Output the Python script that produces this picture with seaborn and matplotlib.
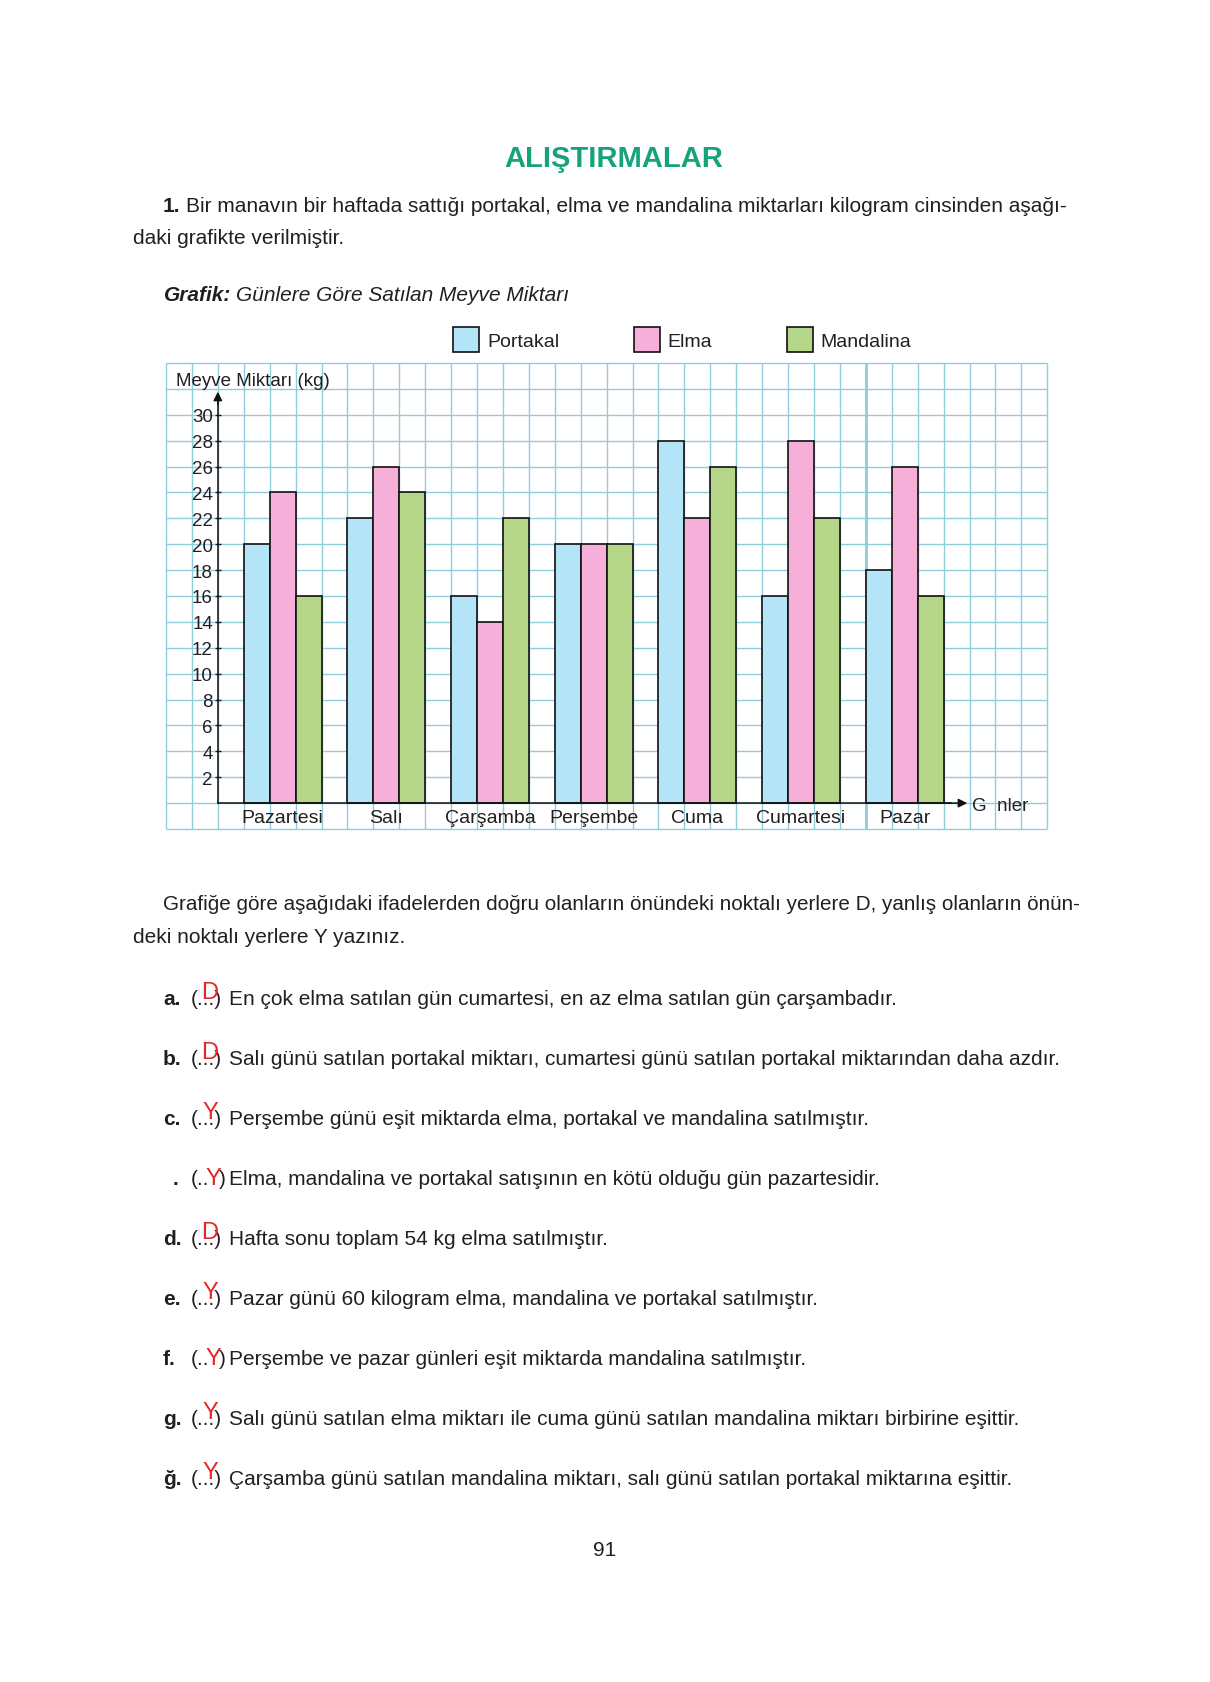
import numpy as np
import pandas as pd
import matplotlib
matplotlib.use("Agg")
import matplotlib.pyplot as plt
import seaborn as sns

# ---------------- data ----------------
days = ["Pazartesi", "Salı", "Çarşamba", "Perşembe", "Cuma", "Cumartesi", "Pazar"]
fruits = ["Portakal", "Elma", "Mandalina"]
portakal = [20, 22, 16, 20, 28, 16, 18]
elma = [24, 26, 14, 20, 22, 28, 26]
mandalina = [16, 24, 22, 20, 26, 22, 16]
y_ticks = list(range(2, 31, 2))
colors = ["#b3e4f7", "#f6afd9", "#b5d589"]

title = "ALIŞTIRMALAR"
para1 = [("1.", "bold"), ("Bir manavın bir haftada sattığı portakal, elma ve mandalina miktarları kilogram cinsinden aşağı-", "normal")]
para1b = "daki grafikte verilmiştir."
chart_title = [("Grafik:", "bold"), ("Günlere Göre Satılan Meyve Miktarı", "normal")]
y_label = "Meyve Miktarı (kg)"
x_label = "G  nler"
instr1 = "Grafiğe göre aşağıdaki ifadelerden doğru olanların önündeki noktalı yerlere D, yanlış olanların önün-"
instr2 = "deki noktalı yerlere Y yazınız."
item_labels = ["a.", "b.", "c.", ".", "d.", "e.", "f.", "g.", "ğ."]
item_answers = ["D", "D", "Y", "Y", "D", "Y", "Y", "Y", "Y"]
item_inline = [False, False, False, True, False, False, True, False, False]
item_texts = [
    "En çok elma satılan gün cumartesi, en az elma satılan gün çarşambadır.",
    "Salı günü satılan portakal miktarı, cumartesi günü satılan portakal miktarından daha azdır.",
    "Perşembe günü eşit miktarda elma, portakal ve mandalina satılmıştır.",
    "Elma, mandalina ve portakal satışının en kötü olduğu gün pazartesidir.",
    "Hafta sonu toplam 54 kg elma satılmıştır.",
    "Pazar günü 60 kilogram elma, mandalina ve portakal satılmıştır.",
    "Perşembe ve pazar günleri eşit miktarda mandalina satılmıştır.",
    "Salı günü satılan elma miktarı ile cuma günü satılan mandalina miktarı birbirine eşittir.",
    "Çarşamba günü satılan mandalina miktarı, salı günü satılan portakal miktarına eşittir.",
]
page_number = "91"

df = pd.DataFrame({
    "Gün": days * 3,
    "Meyve": [f for f in fruits for _ in days],
    "Miktar": portakal + elma + mandalina,
})

# ---------------- figure ----------------
W, H = 1210, 1683
sns.set_theme(style="white")
plt.rcParams["font.family"] = ["Liberation Sans", "DejaVu Sans"]
TXT = "#231f20"
fig = plt.figure(figsize=(W / 100, H / 100), dpi=100)
fig.patch.set_facecolor("white")

def fx(x):
    return x / W

def fy(y):
    return 1 - y / H

ax = fig.add_axes([fx(166), fy(830), (1047.3 - 166) / W, (830 - 364) / H])
ax.set_facecolor("white")

sns.barplot(data=df, x="Gün", y="Miktar", hue="Meyve", order=days, hue_order=fruits,
            palette=colors, saturation=1, width=0.75, gap=0, edgecolor="#111111",
            linewidth=1.2, errorbar=None, ax=ax, zorder=2)

ax.set_xlim(-1.125, 7.375)
ax.set_ylim(-2, 34)

gridc = "#8fcddc"
ax.vlines(np.arange(-1.125, 7.376, 0.25), -2, 34, colors=gridc, lw=1.0, zorder=0.5, clip_on=False)
ax.vlines([5.625], -2, 34, colors=gridc, lw=2.0, zorder=0.5, clip_on=False)
ax.hlines(np.arange(-2, 34.1, 2), -1.125, 7.375, colors=gridc, lw=1.0, zorder=0.5, clip_on=False)

for s in ["top", "right"]:
    ax.spines[s].set_visible(False)
ax.spines["left"].set_position(("data", -0.625))
ax.spines["bottom"].set_position(("data", 0))
ax.spines["left"].set_bounds(0, 31.3)
ax.spines["bottom"].set_bounds(-0.625, 6.45)
for s in ["left", "bottom"]:
    ax.spines[s].set_color("#111111")
    ax.spines[s].set_linewidth(1.1)
    ax.spines[s].set_zorder(3)

ax.annotate("", xy=(-0.625, 32.0), xytext=(-0.625, 30.6),
            arrowprops=dict(arrowstyle="-|>", color="#111111", lw=1.1, mutation_scale=13), zorder=4)
ax.annotate("", xy=(6.63, 0), xytext=(6.35, 0),
            arrowprops=dict(arrowstyle="-|>", color="#111111", lw=1.1, mutation_scale=13), zorder=4)

ax.set_yticks(y_ticks)
ax.set_yticklabels([str(v) for v in y_ticks])
ax.tick_params(axis="y", direction="inout", length=4, width=1, pad=1.5, labelsize=13.5, colors=TXT, left=True)
ax.set_xticks(range(len(days)))
ax.set_xticklabels(days)
ax.tick_params(axis="x", length=0, pad=4, labelsize=14, colors=TXT)

ax.set_ylabel(y_label, rotation=0, fontsize=13.5, color=TXT, ha="left", va="baseline")
ax.yaxis.set_label_coords((176 - 166) / 881.3, (830 - 386) / 466)
ax.set_xlabel(x_label, fontsize=13.5, color=TXT, ha="left", va="baseline")
ax.xaxis.set_label_coords((972 - 166) / 881.3, (830 - 811) / 466)

handles, labels = ax.get_legend_handles_labels()
ax.legend(handles, labels, loc="upper left", bbox_to_anchor=(fx(453.3), fy(328.3)),
          bbox_transform=fig.transFigure, ncol=3, frameon=False, fontsize=14,
          handlelength=1.34, handleheight=1.61, handletextpad=0.41, columnspacing=3.82,
          borderpad=0, borderaxespad=0, labelcolor=TXT)

# ---------------- page text ----------------
renderer = fig.canvas.get_renderer()
BODY = 15

def runs(x, y, parts, size=BODY, style="normal", gap=6):
    for txt, weight in parts:
        t = fig.text(fx(x), fy(y), txt, fontsize=size, fontweight=weight, fontstyle=style,
                     color=TXT, ha="left", va="baseline")
        bb = t.get_window_extent(renderer)
        x += bb.width + gap

fig.text(fx(614), fy(167), title, fontsize=21, fontweight="bold", color="#14a37b",
         ha="center", va="baseline")
runs(163, 211.5, para1)
fig.text(fx(133), fy(243.5), para1b, fontsize=BODY, color=TXT, ha="left", va="baseline")
runs(164, 301, chart_title, style="italic", gap=5)

fig.text(fx(163), fy(910), instr1, fontsize=14.85, color=TXT, ha="left", va="baseline")
fig.text(fx(133), fy(943.5), instr2, fontsize=BODY, color=TXT, ha="left", va="baseline")

RED = "#e5262a"
base_y = 1005
step = 60
for i, (lab, ans, inline, txt) in enumerate(zip(item_labels, item_answers, item_inline, item_texts)):
    y = base_y + i * step
    lx = 173 if lab == "." else 163
    fig.text(fx(lx), fy(y), lab, fontsize=BODY, fontweight="bold", color=TXT, ha="left", va="baseline")
    if inline:
        fig.text(fx(191), fy(y), "(..", fontsize=BODY, color=TXT, ha="left", va="baseline")
        fig.text(fx(213.5), fy(y), ans, fontsize=17, color=RED, ha="center", va="baseline")
        fig.text(fx(219), fy(y), ")", fontsize=BODY, color=TXT, ha="left", va="baseline")
    else:
        fig.text(fx(191), fy(y), "(...)", fontsize=BODY, color=TXT, ha="left", va="baseline")
        fig.text(fx(210), fy(y - 6), ans, fontsize=17, color=RED, ha="center", va="baseline")
    fig.text(fx(229), fy(y), txt, fontsize=BODY, color=TXT, ha="left", va="baseline")

fig.text(fx(604.5), fy(1556), page_number, fontsize=BODY, color=TXT, ha="center", va="baseline")

fig.savefig("out.png", dpi=100, facecolor="white")
